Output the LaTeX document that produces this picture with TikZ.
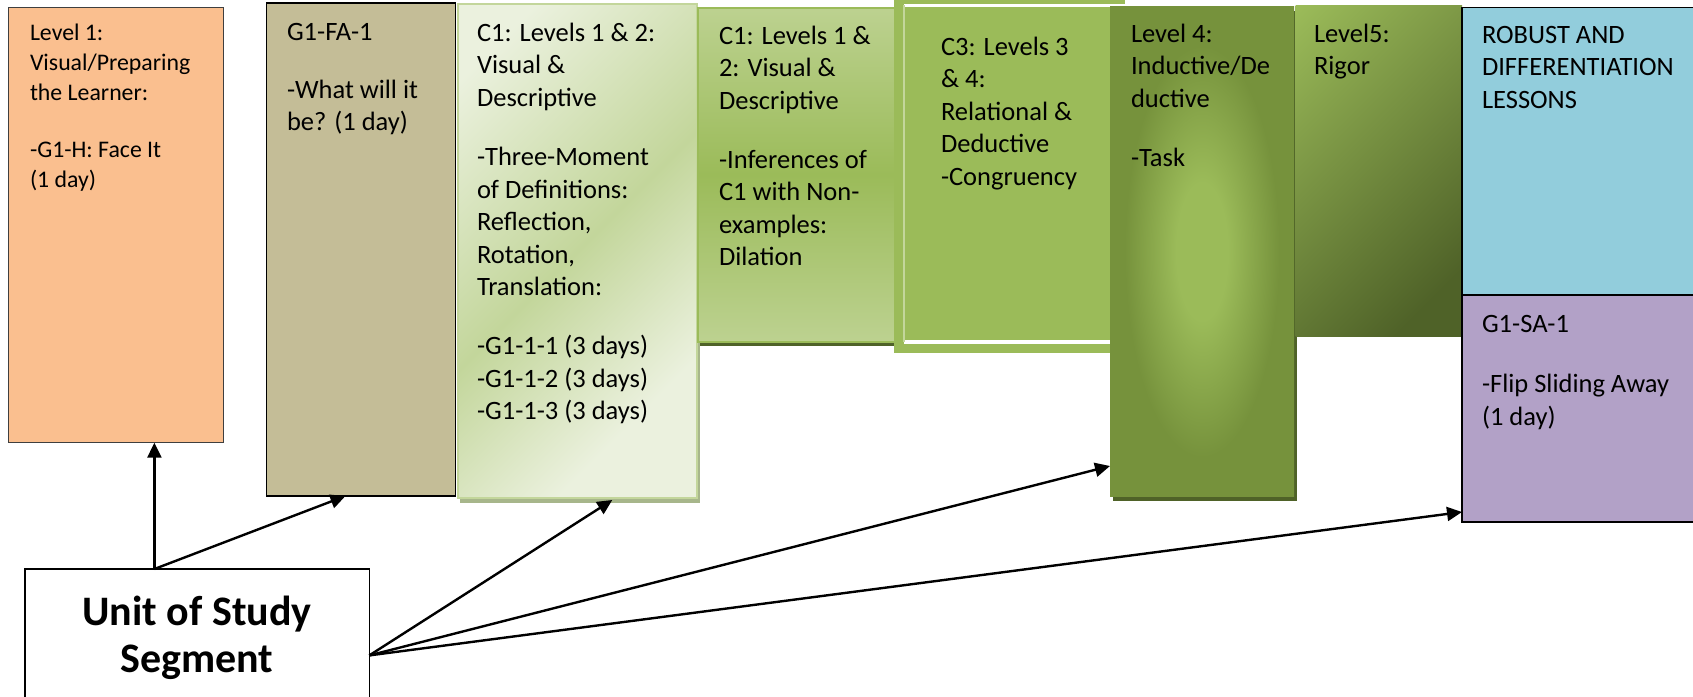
\documentclass[tikz,border=0pt]{standalone}
\usepackage{fontspec}
\setmainfont{Carlito}
\usetikzlibrary{arrows.meta}
\definecolor{orangeL}{HTML}{FABF8F}
\definecolor{orangeB}{HTML}{3F3F3F}
\definecolor{tanC}{HTML}{C4BD97}
\definecolor{grnL}{HTML}{EBF1DE}
\definecolor{grnM}{HTML}{C3D69B}
\definecolor{grnA}{HTML}{9BBB59}
\definecolor{grnD}{HTML}{76923C}
\definecolor{grnDD}{HTML}{4F6228}
\definecolor{aquaL}{HTML}{92CDDC}
\definecolor{purpL}{HTML}{B2A1C7}
\definecolor{shadowG}{HTML}{A7B68B}
\pgfdeclarehorizontalshading{cOneShade}{100bp}{color(0bp)=(grnL); color(22bp)=(grnL); color(50bp)=(grnM); color(72bp)=(grnL); color(100bp)=(grnL)}
\pgfdeclarehorizontalshading{lvFiveShade}{100bp}{color(0bp)=(grnA); color(15bp)=(grnA); color(76bp)=(grnDD); color(100bp)=(grnDD)}
\pgfdeclareradialshading{lvFourShade}{\pgfpoint{0bp}{0bp}}{color(0bp)=(grnA); color(7bp)=(grnA); color(21bp)=(grnD); color(50bp)=(grnD)}
\pgfdeclareverticalshading{cOneBShade}{100bp}{color(0bp)=(grnM); color(20bp)=(grnM); color(50bp)=(grnA); color(80bp)=(grnM); color(100bp)=(grnM)}
\newcommand\bodyfont{\fontsize{26.5}{32.5}\selectfont}
\newcommand\smallbodyfont{\fontsize{23.8}{29.7}\selectfont}
\newcommand\unitfont{\bfseries\fontsize{42}{47}\selectfont}
\tikzset{
  box/.style={rectangle, anchor=north west, inner sep=0pt, outer sep=0pt},
  txt/.style={anchor=north west, inner sep=0pt, outer sep=0pt, align=left, font=\bodyfont},
  conn/.style={-{Triangle[length=15pt,width=14pt]}, line width=2.4pt, black},
}
\begin{document}
\begin{tikzpicture}[x=1pt,y=-1pt]
\useasboundingbox (0,0) rectangle (1693,696);
\clip (0,0) rectangle (1693,696);
% box 1
\node[box, minimum width=214.9pt, minimum height=435.1pt, fill=orangeL, draw=orangeB, line width=1.4pt] (b1) at (8.6,7.6) {};
% box 2
\node[box, minimum width=188.9pt, minimum height=493pt, fill=tanC, draw=black, line width=1.5pt] (b2) at (266.7,3) {};
% box 3
\node[box, minimum width=239.5pt, minimum height=495pt, fill=shadowG] (b3s) at (460,8) {};
\node[box, minimum width=239pt, minimum height=494pt, shade, shading=cOneShade, shading angle=-45, draw=grnM, line width=2pt] (b3) at (457.8,4) {};
% box 4
\node[box, minimum width=197pt, minimum height=334pt, fill=grnDD] (b4s) at (700,11.5) {};
\node[box, minimum width=197.5pt, minimum height=334pt, shade, shading=cOneBShade, draw=grnA, line width=2pt] (b4) at (697.5,7.5) {};
% box 5
\node[box, minimum width=231pt, minimum height=353pt, fill=grnA] (b5) at (894,0) {};
\draw[white, line width=3pt] (904,5) -- (1125,5);
\draw[white, line width=3.5pt] (904,342) -- (1125,342);
\draw[grnM, line width=1.5pt] (904,5) -- (904,342);
% box 6
\node[box, minimum width=184pt, minimum height=490pt, fill=grnDD] (b6s) at (1113,10.5) {};
\node[box, minimum width=184pt, minimum height=490pt, shade, shading=lvFourShade] (b6) at (1110,6.5) {};
% box 7
\node[box, minimum width=166.4pt, minimum height=331pt, shade, shading=lvFiveShade, shading angle=-45] (b7) at (1295.6,5) {};
% box 8, 9
\node[box, minimum width=240pt, minimum height=287.6pt, fill=aquaL, draw=black, line width=1.5pt] (b8) at (1462,7.6) {};
\node[box, minimum width=240pt, minimum height=226.8pt, fill=purpL, draw=black, line width=1.5pt] (b9) at (1462,295.2) {};
% texts
\node[txt, font=\smallbodyfont] (t1) at (30,19.9) {\strut Level 1:\\Visual/Preparing\\the Learner:\\[28pt]-G1-H: Face It\\(1 day)};
\node[txt] (t2) at (287,17.25) {\strut G1-FA-1\\[25.5pt]-What will it\\be? (1 day)};
\node[txt] (t3) at (477,18.25) {\strut C1: Levels 1 \& 2:\\Visual \&\\Descriptive\\[27pt]-Three-Moment\\of Definitions:\\Reflection,\\Rotation,\\Translation:\\[26.5pt]-G1-1-1 (3 days)\\-G1-1-2 (3 days)\\-G1-1-3 (3 days)};
\node[txt] (t4) at (719,21.25) {\strut C1: Levels 1 \&\\2: Visual \&\\Descriptive\\[26.5pt]-Inferences of\\C1 with Non-\\examples:\\Dilation};
\node[txt] (t5) at (941,32.25) {\strut C3: Levels 3\\\& 4:\\Relational \&\\Deductive\\-Congruency};
\node[txt] (t6) at (1131,19.25) {\strut Level 4:\\Inductive/De\\ductive\\[26.5pt]-Task};
\node[txt] (t7) at (1314,19.25) {\strut Level5:\\Rigor};
\node[txt] (t8) at (1482,20.25) {\strut ROBUST AND\\DIFFERENTIATION\\LESSONS};
\node[txt] (t9) at (1482,309.25) {\strut G1-SA-1\\[28pt]-Flip Sliding Away\\(1 day)};
% unit box
\node[box, minimum width=344.5pt, minimum height=151pt, fill=white, draw=black, line width=1.5pt] (unit) at (24.8,569) {};
\node[anchor=north, inner sep=0pt, align=center, font=\unitfont] (ut) at (197,592) {\strut Unit of Study\\Segment};
% connectors
\coordinate (s1) at ([xshift=129.6pt]unit.north west);
\coordinate (s2) at ([yshift=-86.4pt]unit.north east);
\draw[conn] (s1) -- (s1 |- b1.south);
\draw[conn] (s1) -- ([xshift=-15.7pt]b2.south);
\draw[conn] (s2) -- ([xshift=35pt,yshift=-2pt]b3.south);
\draw[conn] (s2) -- ([yshift=30.5pt]b6.south west);
\draw[conn] (s2) -- ([yshift=10pt]b9.south west);
\end{tikzpicture}
\end{document}
